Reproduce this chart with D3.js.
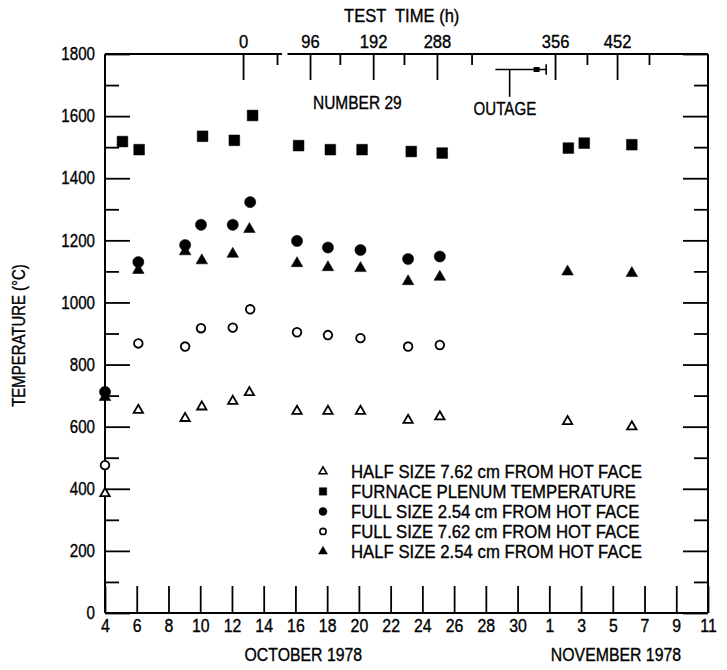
<!DOCTYPE html>
<html>
<head>
<meta charset="utf-8">
<script src="https://cdn.jsdelivr.net/npm/d3@7"></script>
<style>
  body { margin: 0; background: #fff; }
  svg text {
    font-family: "Liberation Sans", Arial, sans-serif;
    font-size: 18px;
    fill: #000;
    stroke: #000;
    stroke-width: 0.35px;
  }
</style>
</head>
<body>
<svg id="chart"></svg>
<script>
(function () {

// Bottom axis: days counted from October (Nov 1 = 32)
const bottomTickDays = [4, 6, 8, 10, 12, 14, 16, 18, 20, 22, 24, 26, 28, 30, 32, 34, 36, 38, 40, 42];
const bottomTickLabels = ["4", "6", "8", "10", "12", "14", "16", "18", "20", "22", "24", "26", "28", "30", "1", "3", "5", "7", "9", "11"];

// Left / right axis
const yMajorTicks = [0, 200, 400, 600, 800, 1000, 1200, 1400, 1600, 1800];
const yMinorTicks = [100, 300, 500, 700, 900, 1100, 1300, 1500, 1700];

// Top axis: test time (h) and where it falls on the date scale
const testHours = [0, 96, 192, 288, 356, 452];
const testHourDays = [12.7, 16.92, 20.9, 24.92, 32.36, 36.27];
const testMinorDays = [14.84, 18.8, 22.84, 27.1, 34.37, 38.28];

// Series
const plenumDays = [5.1, 6.15, 10.15, 12.15, 13.3, 16.2, 18.2, 20.2, 23.3, 25.25, 33.2, 34.2, 37.2];
const plenumTemp = [1518, 1492, 1535, 1522, 1602, 1505, 1492, 1492, 1486, 1481, 1497, 1513, 1508];

const fullDays = [4.0, 6.1, 9.05, 10.05, 12.05, 13.15, 16.1, 18.05, 20.1, 23.1, 25.1];
const full254Temp = [712, 1130, 1185, 1250, 1250, 1323, 1198, 1177, 1169, 1140, 1148];
const full762Temp = [476, 868, 858, 917, 919, 978, 904, 895, 885, 858, 863];

const halfDays = [4.0, 6.1, 9.05, 10.1, 12.05, 13.1, 16.1, 18.05, 20.1, 23.1, 25.1, 33.15, 37.2];
const half254Temp = [695, 1104, 1164, 1135, 1156, 1236, 1126, 1113, 1110, 1068, 1082, 1099, 1094];
const half762Temp = [385, 653, 627, 664, 682, 710, 650, 650, 650, 621, 632, 617, 600];

const legendLabels = [
  "HALF SIZE 7.62 cm FROM HOT FACE",
  "FURNACE PLENUM TEMPERATURE",
  "FULL SIZE 2.54 cm FROM HOT FACE",
  "FULL SIZE 7.62 cm FROM HOT FACE",
  "HALF SIZE 2.54 cm FROM HOT FACE"
];

// chart frame
const margin = {top: 54, right: 19, bottom: 57, left: 105},
    width = 727 - margin.left - margin.right,
    height = 670 - margin.top - margin.bottom;

const svg = d3.select("#chart")
    .attr("width", 727)
    .attr("height", 670)
  .append("g")
    .attr("transform", `translate(${margin.left},${margin.top})`);

const x = d3.scaleLinear().domain([4, 42]).range([0, width]);
const y = d3.scaleLinear().domain([0, 1800]).range([height, 0]);

// the lettering in the original is narrow, squeeze the text a bit
function condense(sel, k) {
  sel.each(function () {
    const w = this.getComputedTextLength();
    d3.select(this).attr("textLength", w * k).attr("lengthAdjust", "spacingAndGlyphs");
  });
}

// symbol shapes
const sq = d3.symbol().type(d3.symbolSquare);
const ci = d3.symbol().type(d3.symbolCircle);
const tr = d3.symbol().type(d3.symbolTriangle);

const series = [
  {days: halfDays, temps: half762Temp, gen: tr, size: 38, filled: false},
  {days: plenumDays, temps: plenumTemp, gen: sq, size: 115, filled: true},
  {days: fullDays, temps: full254Temp, gen: ci, size: 98, filled: true},
  {days: fullDays, temps: full762Temp, gen: ci, size: 58, filled: false},
  {days: halfDays, temps: half254Temp, gen: tr, size: 58, filled: true}
];

// frame lines
const frame = svg.append("g")
    .attr("stroke", "#000")
    .attr("stroke-width", 2)
    .attr("fill", "none");
frame.append("line").attr("x1", 0).attr("x2", 0).attr("y1", 0).attr("y2", height);
frame.append("line").attr("x1", width).attr("x2", width).attr("y1", 0).attr("y2", height);
frame.append("line").attr("x1", 0).attr("x2", width).attr("y1", height).attr("y2", height);
// top line has a small break in it
frame.append("line").attr("x1", 0).attr("x2", x(15.15)).attr("y1", 0).attr("y2", 0);
frame.append("line").attr("x1", x(15.5)).attr("x2", width).attr("y1", 0).attr("y2", 0);

function styleAxis(g) {
  g.select(".domain").remove();
  g.selectAll(".tick line").attr("stroke", "#000").attr("stroke-width", 1.8);
}

// bottom axis
svg.append("g")
    .attr("transform", `translate(0,${height})`)
    .call(d3.axisBottom(x)
      .tickValues(bottomTickDays)
      .tickSize(-27)
      .tickPadding(6)
      .tickFormat((d, i) => bottomTickLabels[i]))
    .call(styleAxis)
    .call(g => condense(g.selectAll("text"), 0.88));

// left axis
svg.append("g")
    .call(d3.axisLeft(y)
      .tickValues(yMajorTicks)
      .tickSize(-25)
      .tickPadding(10)
      .tickFormat(d3.format("d")))
    .call(styleAxis)
    .call(g => condense(g.selectAll("text"), 0.84));
svg.append("g")
    .call(d3.axisLeft(y).tickValues(yMinorTicks).tickSize(-14).tickFormat(""))
    .call(styleAxis);

// right axis
svg.append("g")
    .attr("transform", `translate(${width},0)`)
    .call(d3.axisRight(y).tickValues(yMajorTicks).tickSize(-25).tickFormat(""))
    .call(styleAxis);
svg.append("g")
    .attr("transform", `translate(${width},0)`)
    .call(d3.axisRight(y).tickValues(yMinorTicks).tickSize(-14).tickFormat(""))
    .call(styleAxis);

// top axis (test time)
svg.append("g")
    .call(d3.axisTop(x)
      .tickValues(testHourDays)
      .tickSize(-26)
      .tickPadding(6)
      .tickFormat((d, i) => testHours[i]))
    .call(styleAxis)
    .call(g => condense(g.selectAll("text"), 0.92));
svg.append("g")
    .call(d3.axisTop(x).tickValues(testMinorDays).tickSize(-11).tickFormat(""))
    .call(styleAxis);

// outage marker
const outage = svg.append("g").attr("stroke", "#000").attr("stroke-width", 1.6);
outage.append("line").attr("x1", x(28.6)).attr("x2", x(31.8)).attr("y1", y(1750)).attr("y2", y(1750));
outage.append("line").attr("x1", x(29.5)).attr("x2", x(29.5)).attr("y1", y(1750)).attr("y2", y(1662));
outage.append("line").attr("x1", x(31.8)).attr("x2", x(31.8)).attr("y1", y(1767)).attr("y2", y(1733));
outage.append("rect")
    .attr("x", x(31.2) - 3).attr("y", y(1750) - 2.5)
    .attr("width", 6).attr("height", 5)
    .attr("fill", "#000").attr("stroke", "none");

// text labels
svg.append("text")
    .attr("x", x(22.7))
    .attr("y", -32)
    .attr("text-anchor", "middle")
    .style("white-space", "pre")
    .text("TEST  TIME (h)")
    .call(t => condense(t, 0.92));

svg.append("text")
    .attr("x", x(19.9))
    .attr("y", 55)
    .attr("text-anchor", "middle")
    .text("NUMBER 29")
    .call(t => condense(t, 0.86));

svg.append("text")
    .attr("x", x(29.2))
    .attr("y", 61)
    .attr("text-anchor", "middle")
    .text("OUTAGE")
    .call(t => condense(t, 0.84));

svg.append("text")
    .attr("transform", `translate(${-80},${y(900) + 2}) rotate(-90)`)
    .attr("text-anchor", "middle")
    .text("TEMPERATURE (°C)")
    .call(t => condense(t, 0.83));

svg.append("text")
    .attr("x", x(16.5))
    .attr("y", height + 48)
    .attr("text-anchor", "middle")
    .text("OCTOBER 1978")
    .call(t => condense(t, 0.88));

svg.append("text")
    .attr("x", x(36.2))
    .attr("y", height + 48)
    .attr("text-anchor", "middle")
    .text("NOVEMBER 1978")
    .call(t => condense(t, 0.88));

// data points
series.forEach(s => {
  svg.append("g").selectAll("path")
    .data(s.days.map((d, i) => ({day: d, temp: s.temps[i]})))
    .enter().append("path")
      .attr("transform", d => `translate(${x(d.day)},${y(d.temp)})`)
      .attr("d", s.gen.size(s.size))
      .attr("fill", s.filled ? "#000" : "#fff")
      .attr("stroke", "#000")
      .attr("stroke-width", s.filled ? 0.5 : 1.8);
});

// legend
const legendSizes = [26, 55, 50, 30, 34];
const legend = svg.selectAll(".legend-row")
    .data(legendLabels)
    .enter().append("g")
    .attr("class", "legend-row")
    .attr("transform", (d, i) => `translate(${218},${y(1000) + 169 + i * 20})`);

legend.append("path")
    .attr("d", (d, i) => series[i].gen.size(legendSizes[i])())
    .attr("fill", (d, i) => series[i].filled ? "#000" : "#fff")
    .attr("stroke", "#000")
    .attr("stroke-width", (d, i) => series[i].filled ? 0.5 : 1.6);

legend.append("text")
    .attr("x", 28)
    .attr("dy", "0.36em")
    .text(d => d)
    .call(t => condense(t, 0.93));

})();
</script>
</body>
</html>
